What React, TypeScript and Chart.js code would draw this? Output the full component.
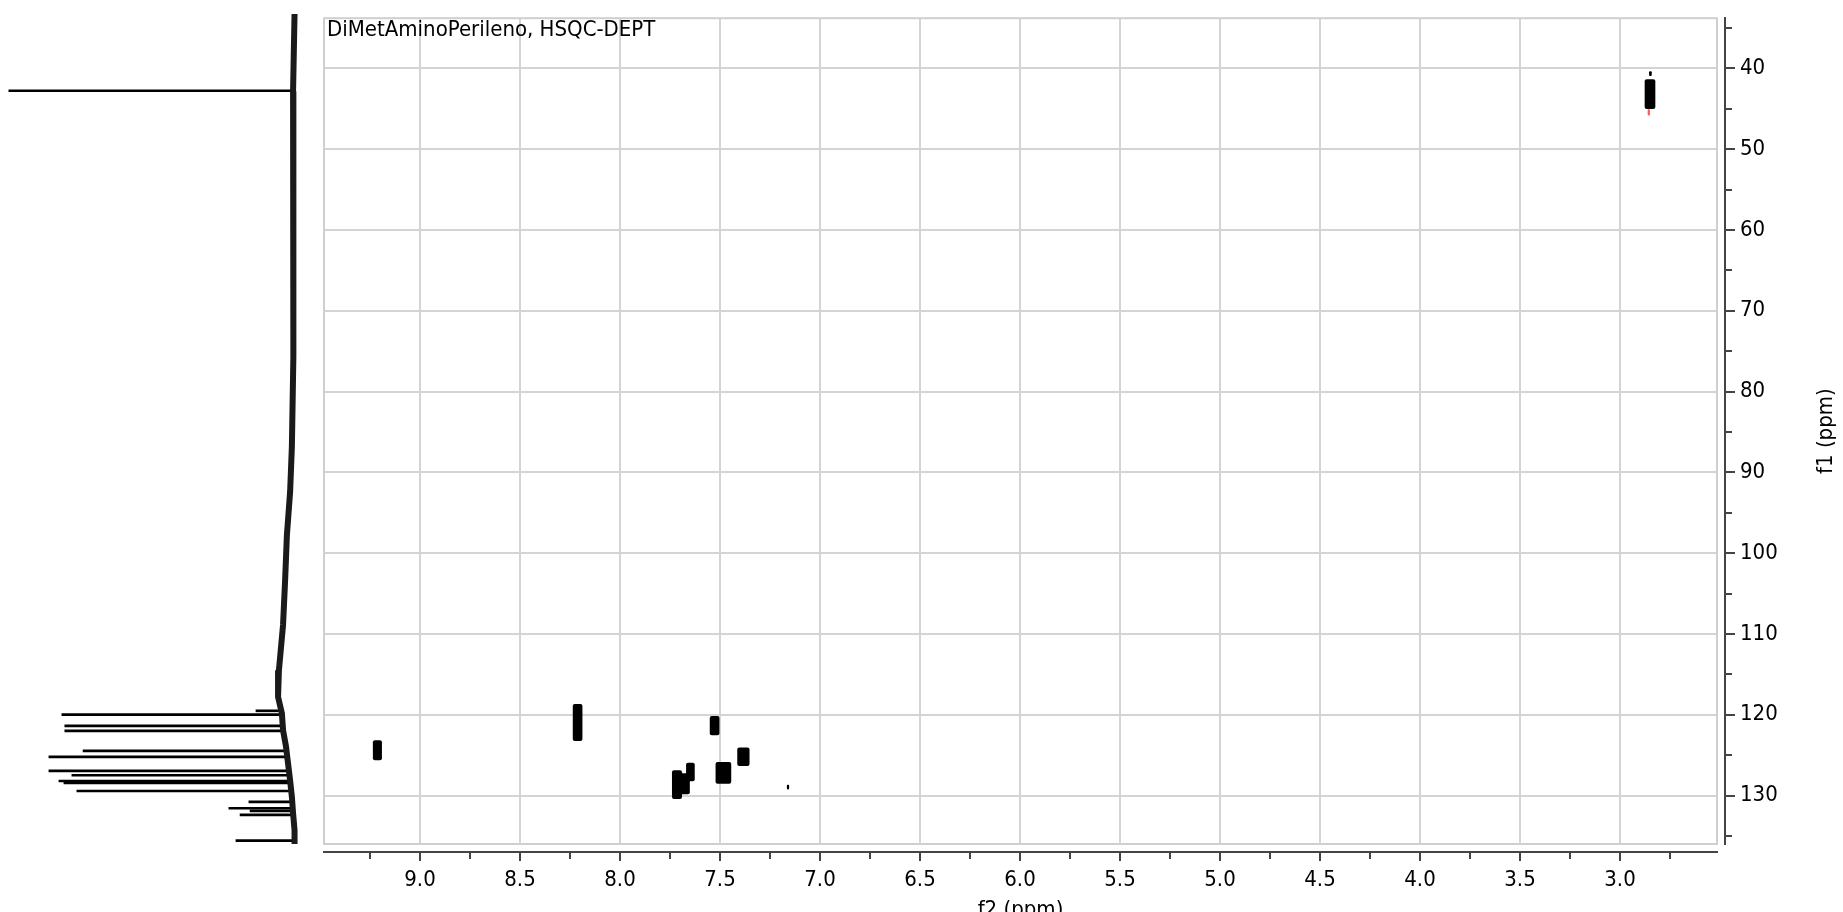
import React, { useEffect, useRef } from 'react';
import { Chart, registerables } from 'chart.js';

Chart.register(...registerables);

// ---------- text ----------
const TITLE = 'DiMetAminoPerileno, HSQC-DEPT';
const X_TITLE = 'f2 (ppm)';
const Y_TITLE = 'f1 (ppm)';

// ---------- axes (ppm) ----------
const F2_MIN = 2.515;
const F2_MAX = 9.48;
const F1_MIN = 33.8;
const F1_MAX = 136.0;
const F2_STEP = 0.25;
const F2_LABEL_STEP = 0.5;
const F1_STEP = 5;
const F1_LABEL_STEP = 10;

// ---------- 2D cross peaks (positive contours) ----------
const PEAK_F2 = [9.213, 8.212, 7.527, 7.483, 7.383, 7.648, 7.715, 7.675, 7.16, 2.85, 2.848];
const PEAK_F1_LOW = [123.2, 118.7, 120.2, 125.9, 124.1, 126.0, 126.9, 127.3, 128.7, 41.4, 40.4];
const PEAK_F1_HIGH = [125.6, 123.2, 122.5, 128.5, 126.3, 128.2, 130.4, 129.8, 129.2, 45.0, 40.9];
const PEAK_F2_WIDTH = [0.042, 0.045, 0.045, 0.075, 0.058, 0.04, 0.047, 0.045, 0.008, 0.05, 0.01];

// ---------- negative contour ----------
const NEG_F2 = [2.856];
const NEG_F1_LOW = [45.1];
const NEG_F1_HIGH = [45.8];
const NEG_F2_WIDTH = [0.008];

// ---------- f1 projection (1D 13C trace, arbitrary intensity) ----------
const PROJ_BASE_F1 = [33.8, 43.3, 54, 65, 76, 87, 92.6, 98, 103.5, 109, 114.6, 117.9, 119.9, 122, 124, 126.1, 128.2, 130.2, 132.2, 134.3, 136];
const PROJ_BASE_INT = [0, 0.5, 0.2, 0.5, 0.5, 0.9, 1.5, 2.6, 3.2, 3.9, 5.3, 5.6, 4.3, 3.9, 2.9, 2.2, 1.5, 0.9, 0.5, 0, 0];
const PROJ_PEAK_F1 = [43.25, 119.6, 120.06, 121.46, 122.08, 124.54, 125.28, 127.0, 127.54, 128.24, 128.48, 129.47, 130.82, 131.6, 131.93, 132.42, 135.58];
const PROJ_PEAK_INT = [97.0, 13.1, 79.0, 78.0, 78.0, 71.8, 83.4, 83.4, 75.6, 80.0, 78.3, 73.9, 15.5, 22.3, 15.1, 18.5, 19.9];
const PROJ_PEAK_BASE = [0.5, 4.5, 4.3, 4.0, 3.9, 2.8, 2.5, 1.9, 1.7, 1.5, 1.4, 1.1, 0.8, 0.6, 0.6, 0.5, 0.0];
const PROJ_INT_MIN = -10;
const PROJ_INT_MAX = 100;

// ---------- layout / style ----------
const W = 1843;
const H = 912;
const AREA = { left: 324, top: 14, right: 1717, bottom: 844 };
const GAP = 8;
const FONT = '"DejaVu Sans Condensed", "Liberation Sans", Arial, sans-serif';
const FONT_SIZE = 22;
const GRID = '#d4d4d4';
const FRAME = '#cfcfcf';
const AXIS = '#444444';
const NONE = 'rgba(0,0,0,0)';

const isMultiple = (v: number, step: number) => Math.abs(v / step - Math.round(v / step)) < 1e-6;

const overlayPlugin = {
  id: 'overlay',
  beforeDatasetsDraw(chart: any) {
    const { ctx, chartArea: a } = chart;
    ctx.save();
    ctx.strokeStyle = FRAME;
    ctx.lineWidth = 2;
    ctx.strokeRect(a.left, a.top, a.right - a.left, a.bottom - a.top);
    ctx.restore();
  },
  afterDraw(chart: any) {
    const { ctx, chartArea: a } = chart;
    ctx.save();
    ctx.font = `${FONT_SIZE}px ${FONT}`;
    ctx.fillStyle = '#000';
    ctx.textAlign = 'left';
    ctx.textBaseline = 'alphabetic';
    ctx.fillText(TITLE, a.left + 3, a.top + 18);
    ctx.translate(chart.width - 17, (a.top + a.bottom) / 2);
    ctx.rotate(-Math.PI / 2);
    ctx.textAlign = 'center';
    ctx.textBaseline = 'middle';
    ctx.fillText(Y_TITLE, 0, 0);
    ctx.restore();
  },
};

function contourDataset(f2: number, lo: number, hi: number, w: number, color: string) {
  return {
    type: 'bar',
    data: [{ x: f2, y: [lo, hi] }],
    backgroundColor: color,
    borderWidth: 0,
    borderSkipped: false,
    grouped: false,
    barThickness: 4,
    borderRadius: 2,
    xAxisID: 'x',
    yAxisID: 'y',
    f2Center: f2,
    f2Width: w,
  };
}

function mainConfig(): any {
  const datasets: any[] = [];
  PEAK_F2.forEach((f2, i) => datasets.push(contourDataset(f2, PEAK_F1_LOW[i], PEAK_F1_HIGH[i], PEAK_F2_WIDTH[i], '#000')));
  NEG_F2.forEach((f2, i) => datasets.push(contourDataset(f2, NEG_F1_LOW[i], NEG_F1_HIGH[i], NEG_F2_WIDTH[i], '#ff5a5a')));
  const font = { family: FONT, size: FONT_SIZE };
  return {
    type: 'bar',
    data: { datasets },
    plugins: [overlayPlugin],
    options: {
      responsive: false,
      animation: false,
      devicePixelRatio: 1,
      events: [],
      layout: { padding: { left: AREA.left, top: AREA.top, right: 0, bottom: 0 } },
      plugins: { legend: { display: false }, tooltip: { enabled: false }, title: { display: false } },
      scales: {
        x: {
          type: 'linear',
          position: 'bottom',
          weight: 1,
          reverse: true,
          min: F2_MIN,
          max: F2_MAX,
          offset: false,
          grid: {
            offset: false,
            color: (c: any) => (c.tick && isMultiple(c.tick.value, F2_LABEL_STEP) ? GRID : NONE),
            lineWidth: 2,
            tickLength: 9,
            tickColor: AXIS,
            tickWidth: 2,
            tickBorderDash: (c: any) => (c.tick && isMultiple(c.tick.value, F2_LABEL_STEP) ? [] : [6, 30]),
          },
          border: { display: true, color: AXIS, width: 2 },
          ticks: {
            stepSize: F2_STEP,
            includeBounds: false,
            autoSkip: false,
            maxRotation: 0,
            minRotation: 0,
            padding: 6,
            color: '#000',
            font,
            callback: (v: any) => (isMultiple(Number(v), F2_LABEL_STEP) ? Number(v).toFixed(1) : ''),
          },
          title: { display: true, text: X_TITLE, color: '#000', font, padding: { top: 0, bottom: -11 } },
          afterFit: (s: any) => { s.height = H - AREA.bottom - GAP; },
        },
        xGap: {
          type: 'linear',
          position: 'bottom',
          weight: 0,
          min: 0,
          max: 1,
          grid: { display: false },
          ticks: { display: false },
          border: { display: false },
          afterFit: (s: any) => { s.height = GAP; },
        },
        y: {
          type: 'linear',
          position: 'right',
          weight: 1,
          reverse: true,
          min: F1_MIN,
          max: F1_MAX,
          offset: false,
          grid: {
            offset: false,
            color: (c: any) => (c.tick && isMultiple(c.tick.value, F1_LABEL_STEP) ? GRID : NONE),
            lineWidth: 2,
            tickLength: 10,
            tickColor: AXIS,
            tickWidth: 2,
            tickBorderDash: (c: any) => (c.tick && isMultiple(c.tick.value, F1_LABEL_STEP) ? [] : [6, 30]),
          },
          border: { display: true, color: AXIS, width: 2 },
          ticks: {
            stepSize: F1_STEP,
            includeBounds: false,
            autoSkip: false,
            padding: 5,
            color: '#000',
            font,
            callback: (v: any) => (isMultiple(Number(v), F1_LABEL_STEP) ? String(Math.round(Number(v))) : ''),
          },
          afterFit: (s: any) => { s.width = W - AREA.right - GAP; },
        },
        yGap: {
          type: 'linear',
          position: 'right',
          weight: 0,
          min: 0,
          max: 1,
          grid: { display: false },
          ticks: { display: false },
          border: { display: false },
          afterFit: (s: any) => { s.width = GAP; },
        },
      },
    },
  };
}

function projConfig(): any {
  return {
    type: 'bar',
    data: {
      datasets: [
        {
          type: 'line',
          indexAxis: 'y',
          data: PROJ_BASE_F1.map((f1, i) => ({ x: PROJ_BASE_INT[i], y: f1 })),
          borderColor: '#1a1a1a',
          borderWidth: 6,
          pointRadius: 0,
          tension: 0,
          fill: false,
        },
        {
          type: 'bar',
          indexAxis: 'y',
          data: PROJ_PEAK_F1.map((f1, i) => ({ y: f1, x: [PROJ_PEAK_BASE[i], PROJ_PEAK_INT[i]] })),
          backgroundColor: '#000',
          borderWidth: 0,
          borderSkipped: false,
          grouped: false,
          barThickness: 2,
        },
      ],
    },
    options: {
      indexAxis: 'y',
      responsive: false,
      animation: false,
      devicePixelRatio: 1,
      events: [],
      layout: { padding: { left: 0, right: 0, top: AREA.top, bottom: H - AREA.bottom } },
      plugins: { legend: { display: false }, tooltip: { enabled: false } },
      scales: {
        x: { type: 'linear', display: false, reverse: true, min: PROJ_INT_MIN, max: PROJ_INT_MAX, offset: false },
        y: { type: 'linear', display: false, reverse: true, min: F1_MIN, max: F1_MAX, offset: false },
      },
    },
  };
}

export default function App() {
  const mainRef = useRef<HTMLCanvasElement>(null);
  const projRef = useRef<HTMLCanvasElement>(null);

  useEffect(() => {
    Chart.defaults.font.family = FONT;
    const main = new Chart(mainRef.current as HTMLCanvasElement, mainConfig());
    const xs: any = main.scales.x;
    main.data.datasets.forEach((ds: any) => {
      const px = Math.abs(xs.getPixelForValue(ds.f2Center + ds.f2Width / 2) - xs.getPixelForValue(ds.f2Center - ds.f2Width / 2));
      ds.barThickness = Math.max(px, 1);
      ds.borderRadius = Math.max(px, 1) / 2;
    });
    main.update('none');
    const proj = new Chart(projRef.current as HTMLCanvasElement, projConfig());
    return () => {
      main.destroy();
      proj.destroy();
    };
  }, []);

  return (
    <div style={{ position: 'fixed', left: 0, top: 0, width: W, height: H, background: '#fff', overflow: 'hidden' }}>
      <canvas ref={projRef} width={AREA.left} height={H} style={{ position: 'absolute', left: 0, top: 0 }} />
      <canvas ref={mainRef} width={W} height={H} style={{ position: 'absolute', left: 0, top: 0 }} />
    </div>
  );
}
